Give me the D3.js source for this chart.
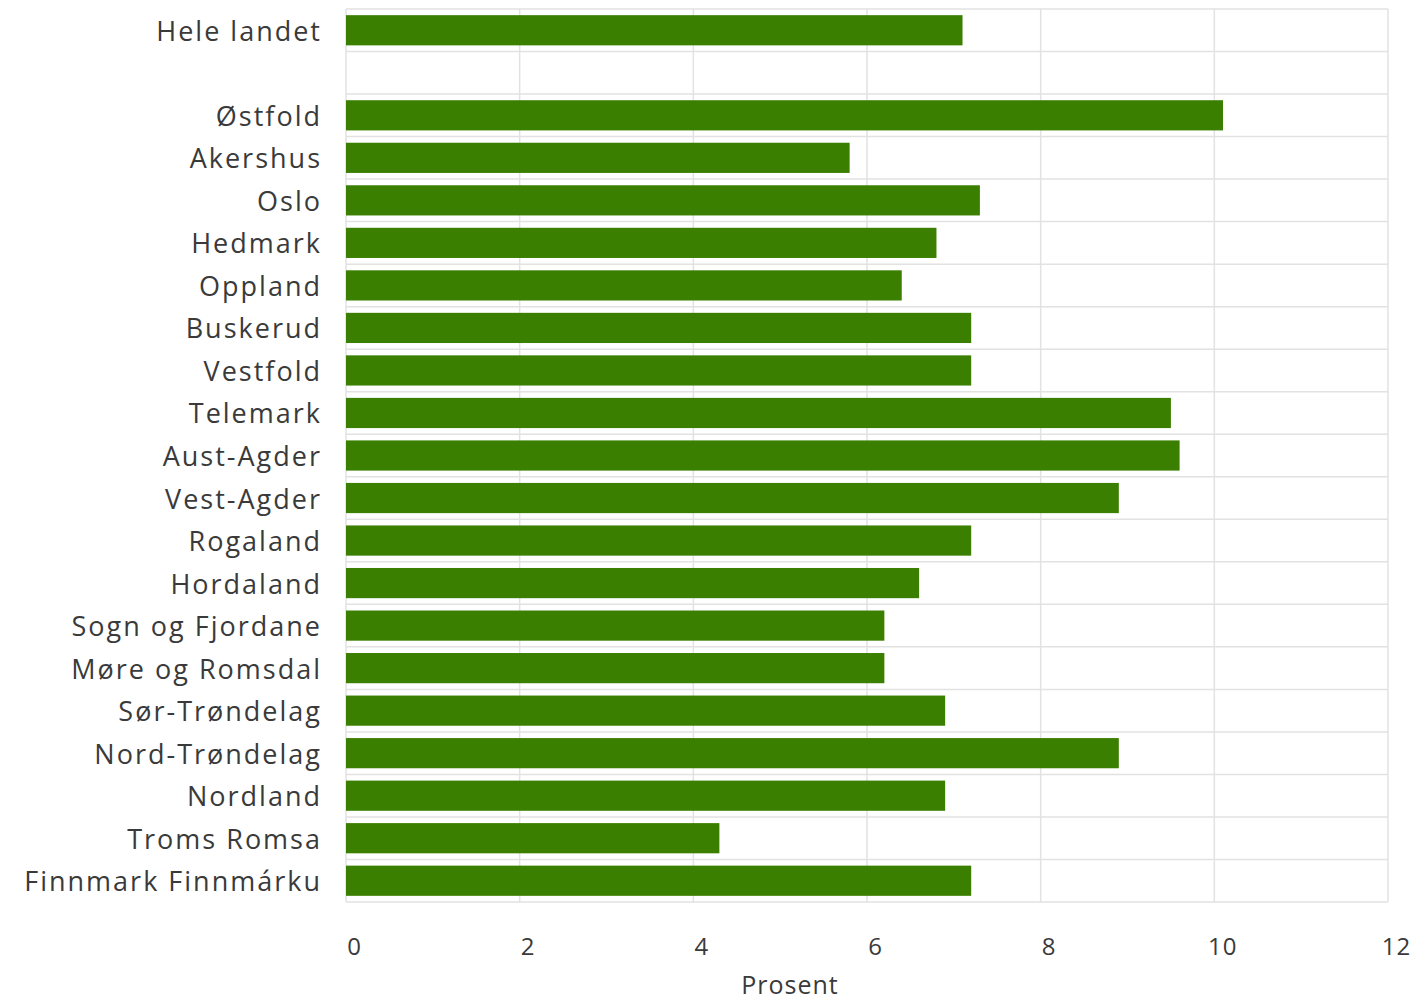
<!DOCTYPE html>
<html><head><meta charset="utf-8">
<script src="https://cdn.jsdelivr.net/npm/d3@7"></script>
<style>
html,body{margin:0;padding:0;background:#fff;}
text{font-family:"Open Sans",sans-serif;fill:#3a3a3a;}
</style></head>
<body>
<svg id="c" width="1416" height="1001"></svg>
<script>
const categories = ["Hele landet","","Østfold","Akershus","Oslo","Hedmark","Oppland","Buskerud","Vestfold","Telemark","Aust-Agder","Vest-Agder","Rogaland","Hordaland","Sogn og Fjordane","Møre og Romsdal","Sør-Trøndelag","Nord-Trøndelag","Nordland","Troms Romsa","Finnmark Finnmárku"];
const values = [7.1,null,10.1,5.8,7.3,6.8,6.4,7.2,7.2,9.5,9.6,8.9,7.2,6.6,6.2,6.2,6.9,8.9,6.9,4.3,7.2];
const xTicks = [0,2,4,6,8,10,12];
const xTitle = "Prosent";

const svg = d3.select("#c");
const m = {left:346, right:1388, top:9, bottom:902};
const x = d3.scaleLinear().domain([0,12]).range([m.left,m.right]);
const keys = categories.map((c,i)=>i);
const y = d3.scaleBand().domain(keys).range([m.top,m.bottom]).paddingInner(0.29).paddingOuter(0.145);

const g = svg.append("g");
const hLines = d3.range(categories.length+1).map(i=>m.top + i*(m.bottom-m.top)/categories.length);
g.selectAll("line.h").data(hLines).join("line")
  .attr("x1",m.left).attr("x2",m.right).attr("y1",d=>d).attr("y2",d=>d)
  .attr("stroke","#e2e2e2").attr("stroke-width",1.5);
g.selectAll("line.v").data(xTicks).join("line")
  .attr("x1",d=>x(d)).attr("x2",d=>x(d)).attr("y1",m.top).attr("y2",m.bottom)
  .attr("stroke","#e2e2e2").attr("stroke-width",1.5);

const data = categories.map((c,i)=>({c,v:values[i],i})).filter(d=>d.v!=null);
g.selectAll("rect").data(data).join("rect")
  .attr("x",x(0)).attr("y",d=>y(d.i)).attr("height",y.bandwidth())
  .attr("width",d=>x(d.v)-x(0)).attr("fill","#3a7f00");

g.selectAll("text.yl").data(categories.map((c,i)=>({c,i})).filter(d=>d.c)).join("text")
  .attr("x",m.left-24).attr("y",d=>y(d.i)+y.bandwidth()/2)
  .attr("text-anchor","end").attr("dominant-baseline","central")
  .attr("font-size",27).attr("letter-spacing","2px").text(d=>d.c);

const xa = svg.append("g").attr("transform",`translate(8,${m.bottom})`)
  .call(d3.axisBottom(x).tickValues(xTicks).tickSize(0).tickPadding(36).tickFormat(d3.format("d")));
xa.select(".domain").remove();
xa.selectAll("text").attr("font-size",24).attr("letter-spacing","1px").style("font-family","'Open Sans',sans-serif").attr("fill","#3a3a3a");

svg.append("text").attr("x",790).attr("y",984).attr("text-anchor","middle")
  .attr("dominant-baseline","central").attr("font-size",25).attr("letter-spacing","1px").text(xTitle);
</script>
</body></html>
